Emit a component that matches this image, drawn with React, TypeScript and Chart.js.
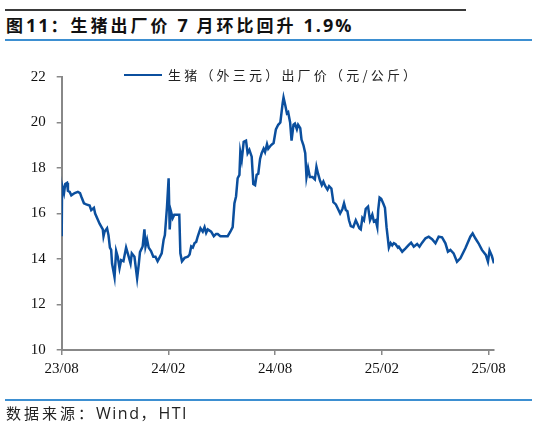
import React, { useEffect, useRef } from "react";
import { Chart, registerables } from "chart.js";

Chart.register(...registerables);

// months since 2023-08 (x position on the axis)
const months: number[] = [
  0, 0.02, 0.13, 0.2, 0.3, 0.35, 0.45, 0.54, 0.73, 0.91, 1.03, 1.1, 1.25, 1.38, 1.57, 1.66, 1.81, 1.88, 2.13, 2.31,
  2.35, 2.41, 2.55, 2.63, 2.71, 2.78, 2.83, 2.97, 3.06, 3.15, 3.25, 3.34, 3.47, 3.62, 3.75, 3.87, 3.94, 4.09, 4.24, 4.33,
  4.4, 4.55, 4.65, 4.71, 4.8, 4.89, 5.02, 5.15, 5.27, 5.39, 5.49, 5.62, 5.73, 5.8, 5.92, 6.01, 6.07, 6.14, 6.24, 6.33,
  6.61, 6.67, 6.76, 6.91, 7.09, 7.19, 7.28, 7.37, 7.47, 7.56, 7.65, 7.8, 7.93, 8.03, 8.12, 8.21, 8.4, 8.55, 8.68, 8.77,
  8.92, 9.33, 9.48, 9.61, 9.71, 9.8, 9.89, 9.99, 10.04, 10.12, 10.23, 10.36, 10.45, 10.55, 10.68, 10.77, 10.87, 10.96, 11.05, 11.15,
  11.24, 11.35, 11.43, 11.54, 11.61, 11.76, 11.91, 12.04, 12.17, 12.29, 12.42, 12.47, 12.57, 12.66, 12.73, 12.84, 12.92, 13.03, 13.11, 13.22,
  13.29, 13.41, 13.48, 13.59, 13.69, 13.76, 13.85, 13.95, 14.1, 14.23, 14.32, 14.41, 14.52, 14.62, 14.71, 14.82, 14.94, 15.03, 15.16, 15.27,
  15.41, 15.5, 15.65, 15.78, 15.87, 15.97, 16.06, 16.15, 16.25, 16.39, 16.53, 16.62, 16.73, 16.81, 16.9, 16.99, 17.09, 17.22, 17.33, 17.46,
  17.55, 17.65, 17.74, 17.79, 17.87, 17.96, 18.07, 18.17, 18.26, 18.34, 18.39, 18.49, 18.58, 18.67, 18.77, 18.9, 18.95, 19.14, 19.33, 19.51,
  19.64, 19.79, 19.98, 20.11, 20.26, 20.45, 20.63, 20.82, 21.01, 21.19, 21.38, 21.57, 21.71, 21.85, 22.03, 22.22, 22.41, 22.69, 22.97, 23.1,
  23.25, 23.43, 23.62, 23.84, 23.96, 24.05, 24.18, 24.3,
];

// 生猪（外三元）出厂价（元/公斤）
const prices: number[] = [
  15.0, 17.25, 16.9, 17.3, 17.35, 17.0, 16.95, 16.8, 16.9, 16.95, 16.9, 16.75, 16.45, 16.4, 16.35, 16.15, 16.25, 16.0, 15.55, 15.3,
  15.0, 15.2, 15.35, 15.05, 14.5, 14.4, 13.8, 13.2, 14.35, 14.1, 13.6, 13.95, 13.9, 14.5, 14.15, 13.8, 14.25, 14.1, 13.15, 13.75,
  14.3, 14.55, 15.3, 14.55, 14.85, 14.5, 14.35, 14.1, 14.1, 13.9, 14.05, 14.25, 14.85, 15.05, 16.3, 17.55, 15.3, 16.1, 15.8, 15.95,
  15.95, 14.25, 13.9, 14.05, 14.1, 14.2, 14.55, 14.5, 14.7, 14.75, 15.0, 15.35, 15.2, 15.4, 15.15, 15.3, 15.2, 15.0, 15.1, 15.1,
  15.0, 15.0, 15.2, 15.4, 16.45, 16.75, 17.55, 17.7, 18.7, 18.35, 19.15, 19.2, 18.65, 18.8, 18.5, 17.3, 17.25, 17.7, 17.75, 18.4,
  18.65, 18.85, 18.7, 19.05, 18.85, 19.0, 19.1, 19.7, 19.9, 20.0, 20.85, 21.1, 20.75, 20.4, 20.45, 20.0, 19.2, 19.9, 19.95, 19.7,
  19.9, 19.75, 19.25, 19.0, 18.65, 17.6, 18.0, 17.6, 17.6, 17.5, 18.05, 17.75, 17.45, 17.25, 17.4, 17.2, 17.05, 17.2, 17.1, 16.5,
  16.4, 16.25, 16.0, 16.2, 16.45, 16.15, 16.1, 15.7, 15.45, 15.4, 15.7, 15.55, 15.35, 15.3, 15.8, 15.7, 16.2, 16.3, 15.7, 15.95,
  15.65, 15.7, 15.4, 16.15, 16.7, 16.65, 16.45, 16.25, 15.4, 14.85, 14.5, 14.7, 14.6, 14.7, 14.65, 14.5, 14.54, 14.32, 14.47, 14.62,
  14.72, 14.54, 14.66, 14.54, 14.72, 14.91, 14.98, 14.87, 14.69, 14.98, 14.95, 14.69, 14.32, 14.4, 14.25, 13.88, 14.03, 14.47, 14.98, 15.13,
  14.91, 14.69, 14.4, 14.18, 13.88, 14.37, 14.13, 13.81,
];

const tickMonths: number[] = [0, 6, 12, 18, 24];
const tickLabels: string[] = ["23/08", "24/02", "24/08", "25/02", "25/08"];

// title split into CJK / latin runs
const TITLE_PARTS: string[] = ["图", "11", "：生猪出厂价 ", "7", " 月环比回升 ", "1.9%"];
const SERIES = "生猪（外三元）出厂价（元/公斤）";
const SOURCE_PARTS: string[] = ["数据来源：", "Wind", "，", "HTI"];

const LINE_COLOR = "#0b4f9e";
const AXIS_COLOR = "#888888";

const isLatin = (s: string) => /^[\x20-\x7e]+$/.test(s);

export default function App() {
  const ref = useRef<HTMLCanvasElement | null>(null);

  useEffect(() => {
    if (!ref.current) return;
    const chart = new Chart(ref.current, {
      type: "line",
      data: {
        datasets: [
          {
            label: SERIES,
            data: months.map((m, i) => ({ x: m, y: prices[i] })),
            borderColor: LINE_COLOR,
            backgroundColor: LINE_COLOR,
            borderWidth: 2.5,
            pointRadius: 0,
            tension: 0,
            fill: false,
          },
        ],
      },
      options: {
        animation: false,
        responsive: false,
        devicePixelRatio: 1,
        layout: { padding: { left: 0, right: 43, top: 77, bottom: 0 } },
        plugins: {
          legend: { display: false },
          title: { display: false },
          tooltip: { enabled: false },
        },
        scales: {
          x: {
            type: "linear",
            min: 0,
            max: 24.3,
            afterBuildTicks: (axis: any) => {
              axis.ticks = tickMonths.map((v) => ({ value: v }));
            },
            afterFit: (axis: any) => {
              axis.height = 77;
            },
            ticks: {
              autoSkip: false,
              maxRotation: 0,
              padding: 5,
              color: "#111",
              font: { family: "Liberation Serif", size: 15 },
              callback: (v: any) => {
                const i = tickMonths.indexOf(Number(v));
                return i >= 0 ? tickLabels[i] : "";
              },
            },
            grid: { drawOnChartArea: false, drawTicks: true, tickLength: 5, color: AXIS_COLOR, lineWidth: 1.5 },
            border: { display: true, color: AXIS_COLOR, width: 2 },
          },
          y: {
            min: 10,
            max: 22,
            afterFit: (axis: any) => {
              axis.width = 61.7;
            },
            ticks: {
              stepSize: 2,
              padding: 11,
              color: "#111",
              font: { family: "Liberation Serif", size: 15 },
            },
            grid: { drawOnChartArea: false, drawTicks: true, tickLength: 5, color: AXIS_COLOR, lineWidth: 1.5 },
            border: { display: true, color: AXIS_COLOR, width: 2 },
          },
        },
      },
    });
    return () => chart.destroy();
  }, []);

  const abs: React.CSSProperties = { position: "absolute" };

  return (
    <div style={{ ...abs, left: 0, top: 0, width: 537, height: 427, background: "#fff", overflow: "hidden" }}>
      <div style={{ ...abs, left: 5, top: 9, width: 461, height: 2, background: "#3a3a3a" }} />
      <div
        style={{
          ...abs,
          left: 6,
          top: 14,
          fontFamily: "'Noto Sans CJK SC', 'Noto Sans', sans-serif",
          fontWeight: 700,
          fontSize: 17,
          lineHeight: "22px",
          color: "#111",
          whiteSpace: "pre",
        }}
      >
        {TITLE_PARTS.map((p, i) => (
          <span
            key={i}
            style={
              isLatin(p)
                ? { fontFamily: "'Open Sans', 'Noto Sans', sans-serif", letterSpacing: 2, fontSize: 18 }
                : { letterSpacing: 3 }
            }
          >
            {p}
          </span>
        ))}
      </div>
      <div style={{ ...abs, left: 5, top: 39, width: 527, height: 2, background: "#3d8fd1" }} />
      <canvas ref={ref} width={537} height={427} style={{ ...abs, left: 0, top: 0, width: 537, height: 427 }} />
      <div style={{ ...abs, left: 124, top: 74, width: 38, height: 2.4, background: LINE_COLOR }} />
      <div
        style={{
          ...abs,
          left: 168,
          top: 66,
          fontFamily: "'Noto Sans CJK SC', sans-serif",
          fontSize: 13,
          letterSpacing: 3.2,
          lineHeight: "18px",
          color: "#222",
          whiteSpace: "nowrap",
        }}
      >
        {SERIES}
      </div>
      <div style={{ ...abs, left: 5, top: 399, width: 527, height: 2, background: "#3d8fd1" }} />
      <div
        style={{
          ...abs,
          left: 6,
          top: 403,
          fontFamily: "'Noto Sans CJK SC', sans-serif",
          fontSize: 15,
          lineHeight: "20px",
          color: "#222",
          whiteSpace: "pre",
        }}
      >
        {SOURCE_PARTS.map((p, i) => (
          <span
            key={i}
            style={
              isLatin(p)
                ? { fontFamily: "'Open Sans', sans-serif", letterSpacing: 1.5, fontSize: 16 }
                : { letterSpacing: 3 }
            }
          >
            {p}
          </span>
        ))}
      </div>
    </div>
  );
}
